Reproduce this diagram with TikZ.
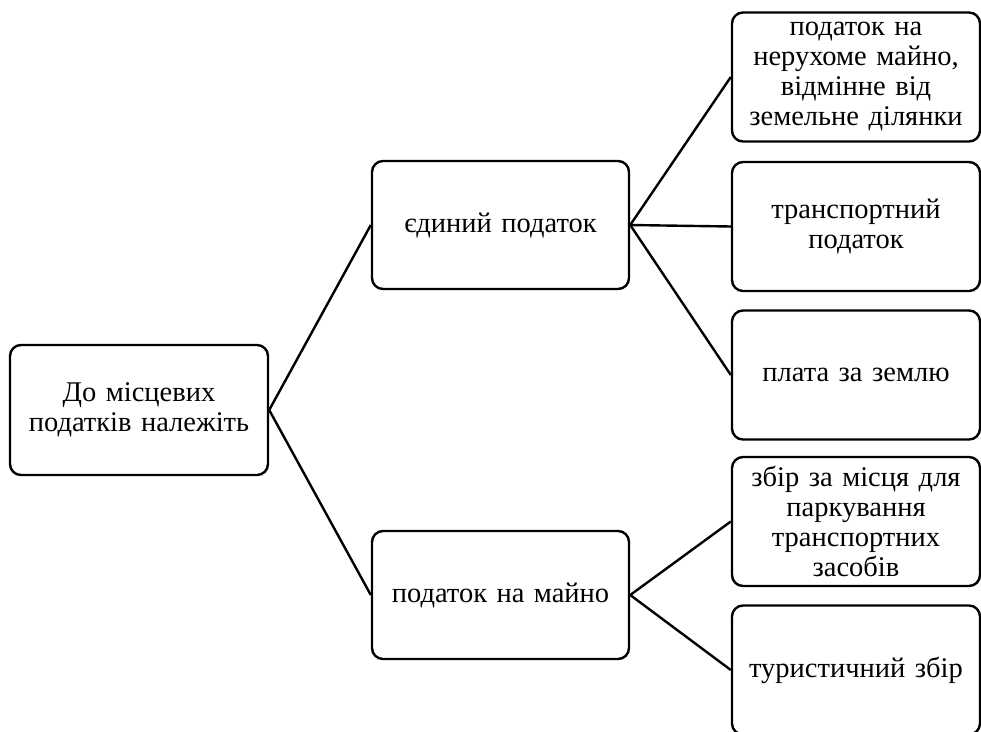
\documentclass[tikz,border=0pt]{standalone}
\usepackage{fontspec}
\setmainfont{Liberation Serif}
\usetikzlibrary{positioning,calc}

\tikzset{
    box/.style={shape=rectangle, draw=black, line width=2.4pt, rounded corners=11pt,
        align=center, inner sep=2pt, font=\fontsize{28.5}{30}\selectfont},
    midbox/.style={box, minimum width=257pt, minimum height=128pt, text width=240pt},
    leafbox/.style={box, minimum width=248pt, minimum height=129pt, text width=240pt},
    link/.style={-, line width=2.4pt}
}

\begin{document}
\begin{tikzpicture}[x=1pt,y=-1pt]
    \clip (0,0) rectangle (981,731);
    \fill[white] (0,0) rectangle (981,731);
    \node[box, minimum width=258pt, minimum height=130pt, text width=245pt] (root) at (139,410) {До місцевих\\податків належіть};
    \node[midbox] (single) at (500.5,225) {єдиний податок};
    \node[midbox] (property) at (500.5,595) {податок на майно};
    \node[leafbox] (realty) at (856,77) {податок на\\нерухоме майно,\\відмінне від\\земельне ділянки};
    \node[leafbox] (transport) at (856,226.5) {транспортний\\податок};
    \node[leafbox] (land) at (856,375) {плата за землю};
    \node[leafbox] (parking) at (856,521.5) {збір за місця для\\паркування\\транспортних\\засобів};
    \node[leafbox] (tourist) at (856,670) {туристичний збір};
    \path [link](root.east) edge node {} (single.west);
    \path [link](root.east) edge node {} (property.west);
    \path [link](single.east) edge node {} (realty.west);
    \path [link](single.east) edge node {} (transport.west);
    \path [link](single.east) edge node {} (land.west);
    \path [link](property.east) edge node {} (parking.west);
    \path [link](property.east) edge node {} (tourist.west);
\end{tikzpicture}
\end{document}
